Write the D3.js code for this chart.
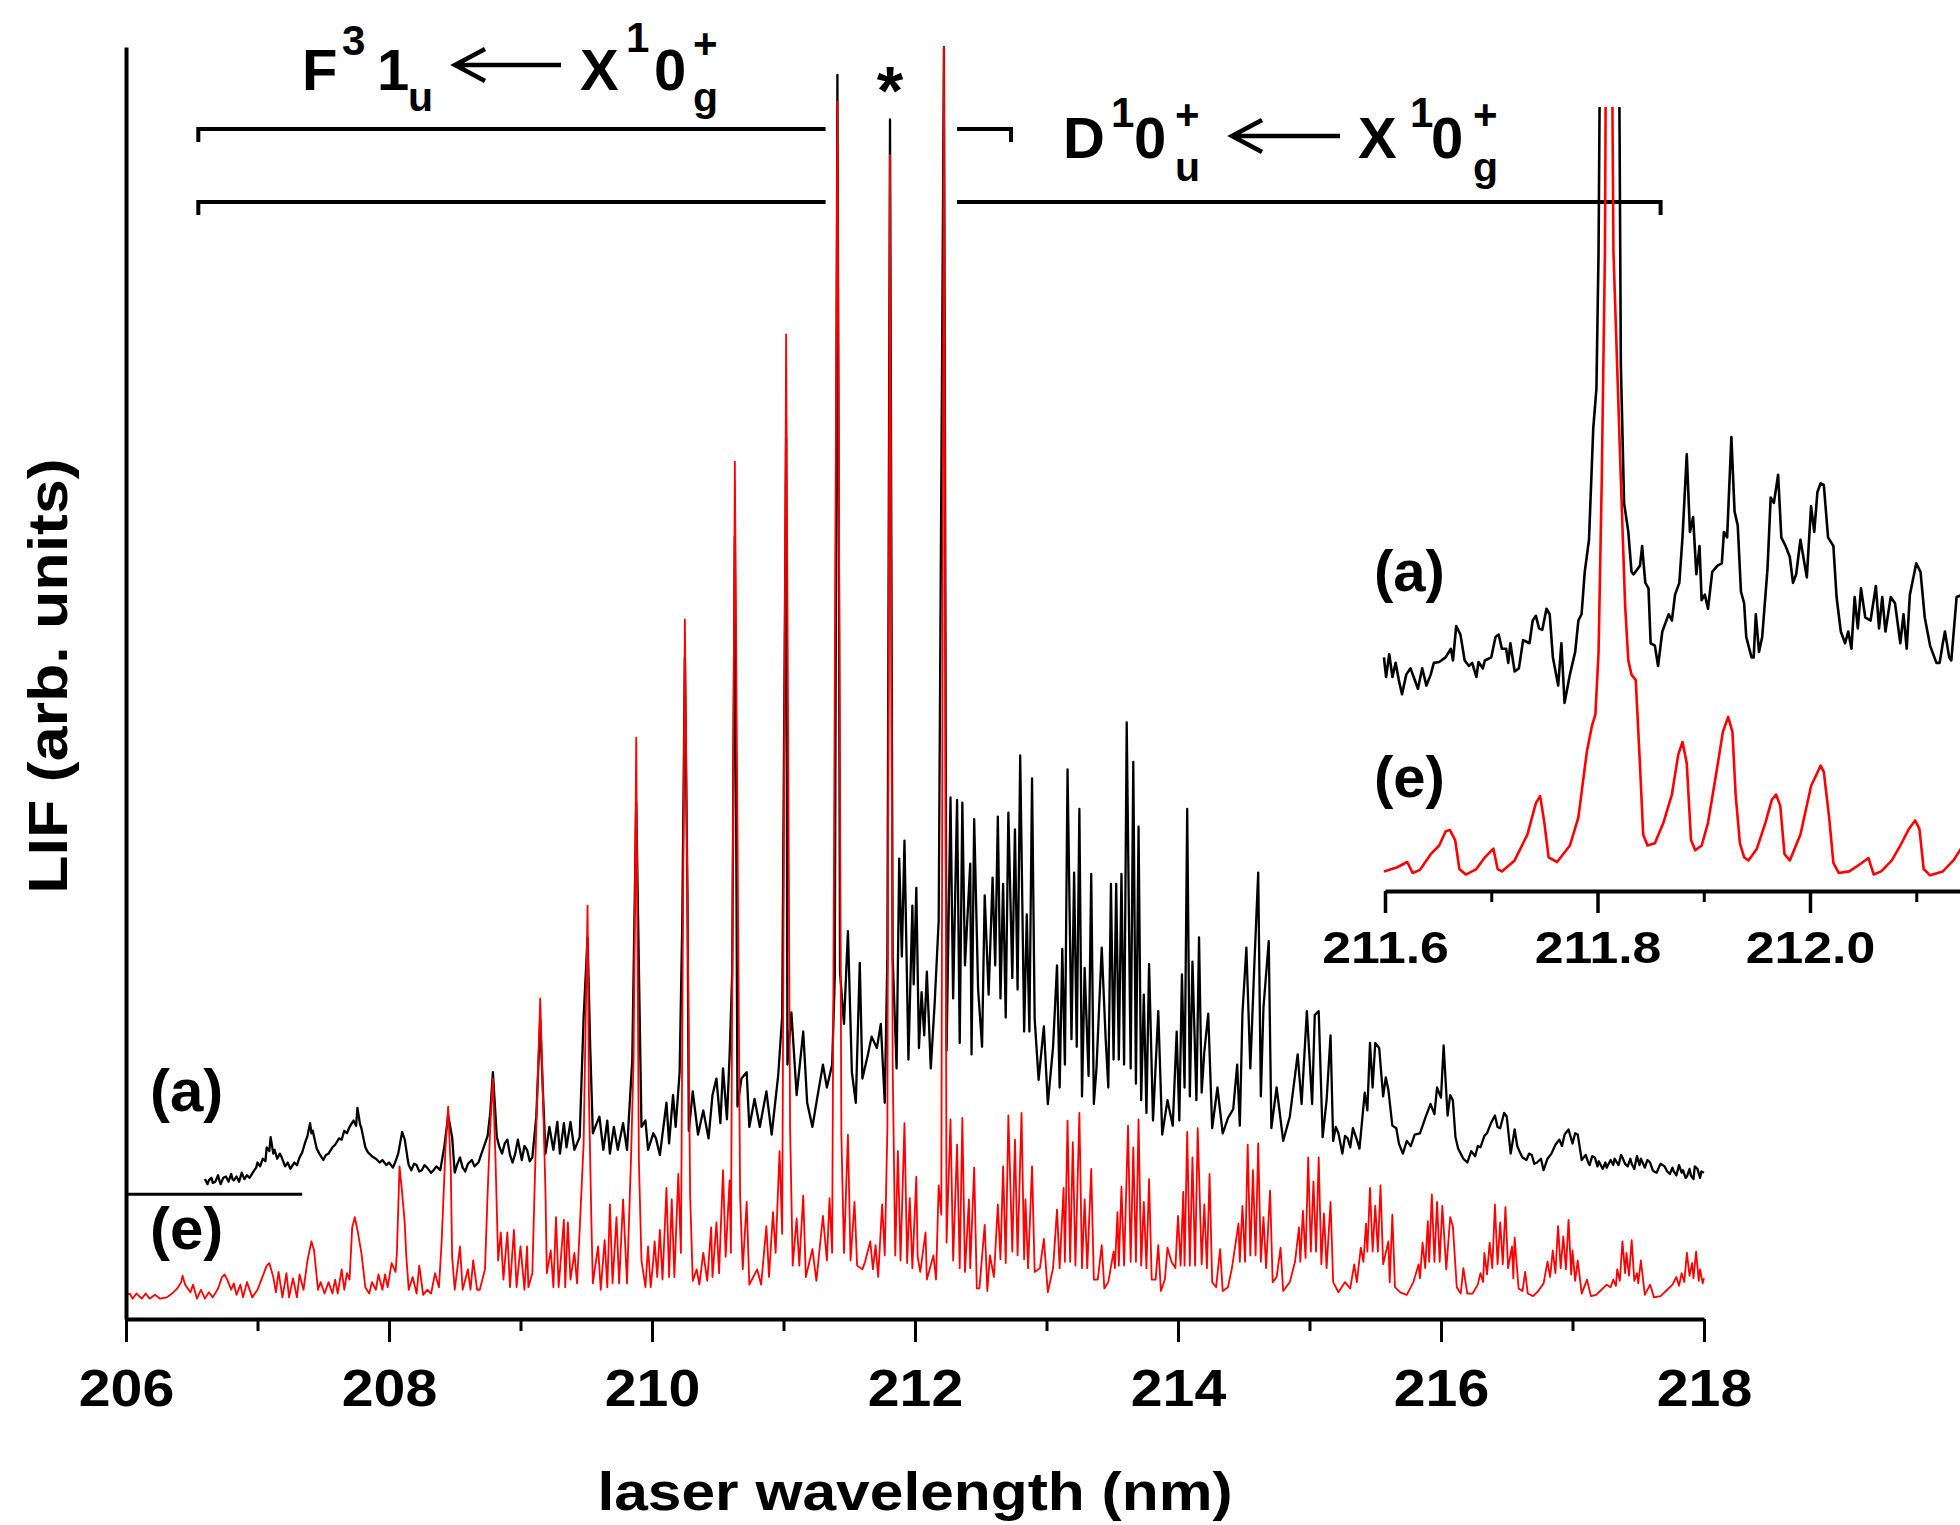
<!DOCTYPE html>
<html>
<head>
<meta charset="utf-8">
<script src="https://cdn.jsdelivr.net/npm/d3@7/dist/d3.min.js"></script>
<style>
  body { margin: 0; background: #fff; }
  text { font-family: Arial, "Liberation Sans", sans-serif; font-weight: bold; fill: #000; }
</style>
</head>
<body>
<script>
// axis ticks (nm)
const wlTicks = [206, 208, 210, 212, 214, 216, 218];
const wlMinor = [207, 209, 211, 213, 215, 217];
const insetTicks = [211.6, 211.8, 212.0];
const insetMinor = [211.7, 211.9, 212.1];

// band ranges drawn over the spectrum (nm)
const fBand = [206.55, 212.73];
const dBand = [206.55, 217.67];
const bandGap = [211.32, 212.32];
const separator = [[206.0, 9.8], [207.34, 9.8]];

// trace (a), main panel: [nm, LIF]
const traceA = [
  [206.60, 11.0], [206.62, 10.6], [206.63, 10.9], [206.65, 11.1], [206.66, 10.7], [206.68, 10.8], [206.70, 11.3], [206.71, 10.9],
  [206.72, 10.6], [206.74, 11.1], [206.76, 11.2], [206.78, 10.8], [206.80, 11.4], [206.81, 11.0], [206.82, 10.9], [206.84, 11.2],
  [206.86, 10.8], [206.88, 11.5], [206.90, 11.0], [206.92, 11.3], [206.94, 11.1], [206.97, 11.6], [206.99, 11.9], [207.00, 12.3],
  [207.02, 12.0], [207.04, 12.6], [207.06, 12.4], [207.07, 13.5], [207.09, 13.2], [207.10, 14.3], [207.12, 13.0], [207.13, 13.3],
  [207.15, 12.6], [207.17, 13.0], [207.18, 12.8], [207.21, 12.0], [207.23, 12.3], [207.25, 11.8], [207.28, 12.3], [207.30, 12.1],
  [207.32, 12.7], [207.34, 13.1], [207.36, 13.8], [207.38, 14.4], [207.40, 15.4], [207.41, 14.6], [207.42, 14.8], [207.45, 13.4],
  [207.47, 13.0], [207.50, 12.5], [207.52, 12.9], [207.54, 13.0], [207.57, 13.5], [207.59, 13.7], [207.62, 14.2], [207.64, 14.1],
  [207.66, 14.8], [207.68, 14.6], [207.70, 15.1], [207.73, 15.6], [207.75, 15.2], [207.76, 16.6], [207.78, 15.3], [207.79, 15.0],
  [207.82, 13.5], [207.84, 13.1], [207.87, 12.8], [207.90, 12.6], [207.93, 12.3], [207.95, 12.5], [207.98, 12.1], [208.00, 12.3],
  [208.03, 11.9], [208.05, 12.4], [208.07, 13.0], [208.10, 14.7], [208.12, 14.1], [208.14, 12.7], [208.15, 12.1], [208.17, 11.7],
  [208.19, 12.2], [208.21, 12.1], [208.23, 11.6], [208.25, 11.7], [208.27, 12.1], [208.29, 11.9], [208.32, 11.5], [208.34, 11.7],
  [208.36, 12.0], [208.39, 11.7], [208.42, 13.5], [208.45, 16.0], [208.48, 14.3], [208.50, 11.5], [208.52, 12.2], [208.54, 12.7],
  [208.56, 11.9], [208.58, 11.6], [208.60, 12.2], [208.63, 12.5], [208.65, 12.0], [208.68, 12.3], [208.70, 12.9], [208.72, 13.5],
  [208.75, 14.4], [208.77, 16.2], [208.79, 19.4], [208.82, 14.3], [208.84, 13.5], [208.86, 13.0], [208.88, 13.8], [208.90, 14.1],
  [208.92, 12.9], [208.94, 12.3], [208.96, 13.0], [208.98, 14.1], [209.01, 12.5], [209.03, 13.6], [209.05, 13.3], [209.07, 12.4],
  [209.09, 12.7], [209.12, 15.9], [209.15, 23.5], [209.17, 18.0], [209.19, 13.0], [209.22, 15.1], [209.25, 13.3], [209.28, 15.5],
  [209.30, 13.0], [209.33, 15.4], [209.35, 13.5], [209.38, 15.5], [209.41, 13.3], [209.45, 14.3], [209.48, 23.7], [209.51, 30.0],
  [209.53, 21.4], [209.55, 14.6], [209.58, 15.4], [209.60, 15.9], [209.63, 13.3], [209.66, 15.6], [209.68, 13.0], [209.71, 15.1],
  [209.74, 13.3], [209.78, 15.4], [209.81, 13.3], [209.85, 20.4], [209.88, 40.6], [209.92, 15.1], [209.95, 15.6], [209.97, 13.3],
  [210.01, 14.6], [210.03, 14.2], [210.06, 12.9], [210.11, 17.0], [210.13, 13.8], [210.16, 17.6], [210.18, 15.1], [210.21, 19.4],
  [210.23, 31.0], [210.25, 52.0], [210.27, 33.0], [210.28, 14.8], [210.31, 17.9], [210.35, 14.5], [210.39, 16.4], [210.43, 14.2],
  [210.46, 17.6], [210.49, 18.9], [210.52, 15.4], [210.54, 19.7], [210.57, 15.7], [210.59, 20.7], [210.61, 27.2], [210.63, 61.5],
  [210.65, 16.7], [210.68, 18.9], [210.72, 19.4], [210.74, 15.1], [210.78, 17.3], [210.82, 15.1], [210.87, 17.9], [210.91, 14.5],
  [210.96, 19.2], [210.99, 23.8], [211.02, 69.3], [211.03, 20.0], [211.06, 24.1], [211.10, 17.6], [211.15, 22.6], [211.18, 17.0],
  [211.22, 15.1], [211.26, 17.6], [211.30, 20.0], [211.33, 18.2], [211.37, 20.0], [211.39, 26.9], [211.41, 97.8], [211.43, 27.2],
  [211.46, 23.2], [211.49, 30.5], [211.52, 19.4], [211.55, 17.0], [211.58, 28.0], [211.60, 18.9], [211.64, 20.7], [211.67, 22.2],
  [211.71, 21.3], [211.74, 23.2], [211.77, 17.0], [211.79, 28.5], [211.81, 94.3], [211.83, 28.5], [211.86, 19.7], [211.88, 36.2],
  [211.90, 28.5], [211.92, 37.6], [211.95, 20.4], [211.98, 32.5], [211.99, 26.3], [212.01, 33.9], [212.03, 21.3], [212.05, 25.7],
  [212.07, 22.3], [212.09, 27.3], [212.12, 19.7], [212.15, 24.9], [212.18, 31.3], [212.22, 100], [212.24, 21.1], [212.27, 41.0],
  [212.29, 25.2], [212.32, 40.8], [212.34, 21.7], [212.36, 40.6], [212.38, 27.8], [212.42, 35.8], [212.43, 20.8], [212.45, 39.3],
  [212.48, 25.9], [212.51, 21.4], [212.53, 33.3], [212.56, 25.5], [212.59, 34.7], [212.61, 27.8], [212.63, 39.5], [212.65, 25.2],
  [212.67, 34.2], [212.69, 23.7], [212.71, 39.8], [212.74, 26.8], [212.76, 38.5], [212.78, 25.9], [212.80, 44.3], [212.83, 22.6],
  [212.85, 31.8], [212.87, 22.6], [212.89, 42.5], [212.91, 23.6], [212.94, 18.8], [212.98, 23.0], [213.01, 16.9], [213.05, 21.4],
  [213.08, 27.8], [213.10, 18.2], [213.12, 29.1], [213.14, 20.0], [213.16, 43.2], [213.19, 22.0], [213.21, 35.1], [213.23, 21.4],
  [213.25, 40.1], [213.27, 17.5], [213.29, 27.6], [213.32, 19.1], [213.34, 35.0], [213.36, 16.9], [213.38, 19.7], [213.42, 29.2],
  [213.45, 22.0], [213.47, 18.2], [213.49, 34.2], [213.51, 20.4], [213.53, 34.2], [213.55, 20.4], [213.57, 35.0], [213.59, 20.0],
  [213.61, 46.9], [213.64, 19.7], [213.66, 43.8], [213.68, 18.5], [213.70, 38.7], [213.72, 17.2], [213.74, 25.5], [213.76, 16.2],
  [213.78, 27.9], [213.81, 15.6], [213.85, 24.2], [213.88, 14.5], [213.92, 17.2], [213.96, 15.2], [213.99, 22.6], [214.01, 15.6],
  [214.03, 27.1], [214.05, 18.2], [214.07, 40.1], [214.09, 17.5], [214.11, 28.1], [214.14, 17.2], [214.16, 30.0], [214.18, 17.8],
  [214.20, 21.0], [214.23, 24.0], [214.26, 15.0], [214.30, 18.2], [214.34, 14.6], [214.38, 15.8], [214.42, 16.5], [214.45, 20.0],
  [214.47, 15.2], [214.49, 24.0], [214.52, 29.2], [214.55, 19.7], [214.58, 27.7], [214.61, 35.1], [214.63, 17.5], [214.65, 24.5],
  [214.69, 29.7], [214.71, 15.0], [214.75, 18.2], [214.80, 14.0], [214.85, 15.9], [214.91, 20.8], [214.94, 16.9], [214.98, 24.2],
  [215.02, 16.9], [215.04, 23.9], [215.07, 24.2], [215.10, 14.3], [215.13, 17.2], [215.16, 22.3], [215.18, 14.0], [215.20, 15.1],
  [215.22, 14.6], [215.25, 13.0], [215.27, 14.4], [215.29, 14.2], [215.31, 13.5], [215.33, 15.0], [215.36, 14.1], [215.38, 13.4],
  [215.40, 15.6], [215.42, 17.8], [215.44, 16.4], [215.46, 21.7], [215.48, 18.2], [215.50, 21.7], [215.53, 21.3], [215.56, 17.5],
  [215.58, 19.0], [215.60, 18.0], [215.63, 15.2], [215.66, 15.0], [215.68, 13.8], [215.71, 13.0], [215.74, 14.0], [215.77, 13.6],
  [215.80, 14.5], [215.84, 14.6], [215.88, 15.8], [215.92, 16.9], [215.95, 16.1], [215.97, 18.2], [216.00, 17.4], [216.02, 21.5],
  [216.05, 16.0], [216.07, 17.6], [216.09, 17.2], [216.11, 14.3], [216.13, 13.4], [216.15, 13.0], [216.17, 12.6], [216.20, 12.3],
  [216.23, 13.2], [216.26, 12.8], [216.28, 13.6], [216.30, 13.5], [216.33, 14.4], [216.35, 14.6], [216.38, 15.4], [216.41, 16.0],
  [216.43, 15.1], [216.45, 15.0], [216.48, 16.2], [216.50, 15.9], [216.53, 13.0], [216.56, 14.9], [216.58, 13.6], [216.60, 13.1],
  [216.62, 12.7], [216.65, 12.5], [216.67, 13.0], [216.69, 12.9], [216.71, 12.2], [216.73, 12.3], [216.76, 12.6], [216.78, 11.7],
  [216.81, 12.6], [216.84, 13.0], [216.87, 13.7], [216.90, 14.1], [216.92, 13.6], [216.94, 14.5], [216.97, 14.9], [217.00, 13.8],
  [217.02, 14.6], [217.04, 14.5], [217.07, 12.5], [217.10, 12.9], [217.12, 12.3], [217.13, 12.1], [217.15, 12.8], [217.17, 12.7],
  [217.19, 12.0], [217.20, 12.4], [217.23, 11.8], [217.25, 12.3], [217.26, 11.9], [217.29, 12.5], [217.31, 12.1], [217.32, 12.6],
  [217.35, 12.1], [217.37, 12.9], [217.38, 12.7], [217.40, 12.2], [217.42, 12.0], [217.44, 12.6], [217.45, 12.2], [217.47, 11.8],
  [217.49, 12.8], [217.51, 12.1], [217.52, 12.6], [217.55, 11.9], [217.57, 12.5], [217.59, 12.3], [217.61, 11.7], [217.62, 11.6],
  [217.64, 11.5], [217.66, 12.0], [217.67, 12.2], [217.70, 12.0], [217.72, 11.6], [217.74, 11.4], [217.76, 11.9], [217.77, 11.6],
  [217.79, 11.3], [217.81, 12.1], [217.83, 11.5], [217.84, 11.7], [217.86, 11.1], [217.87, 11.2], [217.89, 11.8], [217.90, 11.3],
  [217.92, 11.0], [217.93, 12.0], [217.95, 11.8], [217.97, 11.1], [217.98, 11.6], [218.00, 11.5]
];

// trace (e), main panel: [nm, LIF]
const traceE = [
  [206.00, 1.9], [206.03, 2.0], [206.05, 1.6], [206.08, 2.0], [206.12, 1.6], [206.15, 2.0], [206.18, 1.6], [206.22, 1.9],
  [206.26, 1.6], [206.31, 1.7], [206.35, 2.0], [206.39, 2.4], [206.42, 2.9], [206.43, 3.4], [206.45, 2.7], [206.49, 2.1],
  [206.51, 2.7], [206.54, 1.6], [206.57, 2.3], [206.60, 1.6], [206.63, 2.1], [206.66, 1.7], [206.70, 2.4], [206.73, 3.3],
  [206.75, 3.5], [206.77, 3.1], [206.80, 2.3], [206.82, 2.8], [206.84, 1.9], [206.87, 2.7], [206.89, 1.7], [206.92, 2.9],
  [206.96, 1.7], [207.00, 2.3], [207.03, 3.1], [207.07, 4.2], [207.09, 4.4], [207.12, 3.3], [207.14, 2.1], [207.16, 3.7],
  [207.19, 1.7], [207.22, 3.6], [207.24, 1.7], [207.27, 3.2], [207.30, 1.7], [207.32, 3.5], [207.35, 2.3], [207.38, 4.6],
  [207.41, 6.1], [207.43, 5.4], [207.46, 2.3], [207.48, 2.9], [207.51, 2.0], [207.54, 2.9], [207.57, 2.0], [207.59, 3.1],
  [207.61, 2.0], [207.64, 3.9], [207.66, 2.3], [207.68, 3.6], [207.70, 3.1], [207.72, 7.2], [207.74, 8.0], [207.76, 7.0],
  [207.79, 5.2], [207.82, 2.5], [207.85, 2.0], [207.87, 2.9], [207.90, 2.3], [207.92, 3.5], [207.95, 2.3], [207.97, 3.5],
  [207.99, 2.5], [208.02, 4.4], [208.05, 3.7], [208.06, 5.2], [208.08, 12.0], [208.10, 9.9], [208.12, 7.5], [208.13, 5.2],
  [208.15, 2.3], [208.18, 3.3], [208.21, 2.0], [208.23, 4.2], [208.26, 1.9], [208.29, 2.3], [208.32, 2.0], [208.35, 3.6],
  [208.38, 2.5], [208.40, 6.0], [208.43, 13.5], [208.45, 16.7], [208.47, 11.7], [208.48, 4.9], [208.50, 2.3], [208.54, 5.7],
  [208.56, 2.3], [208.60, 3.9], [208.62, 2.3], [208.64, 4.6], [208.67, 2.3], [208.69, 2.3], [208.73, 3.9], [208.75, 9.9],
  [208.77, 15.1], [208.79, 18.9], [208.81, 12.5], [208.83, 4.6], [208.85, 6.8], [208.87, 3.1], [208.90, 6.8], [208.92, 2.5],
  [208.95, 7.0], [208.97, 2.5], [209.00, 5.7], [209.03, 2.3], [209.05, 5.7], [209.06, 2.5], [209.09, 3.6], [209.12, 15.1],
  [209.15, 25.2], [209.17, 17.8], [209.19, 9.9], [209.20, 3.6], [209.23, 5.4], [209.25, 2.5], [209.27, 8.0], [209.29, 2.5],
  [209.33, 7.8], [209.34, 2.5], [209.36, 7.6], [209.38, 3.1], [209.41, 5.2], [209.43, 2.8], [209.45, 7.0], [209.48, 13.8],
  [209.51, 32.5], [209.52, 17.8], [209.54, 7.2], [209.55, 2.8], [209.59, 5.7], [209.61, 2.3], [209.64, 6.2], [209.66, 2.5],
  [209.68, 9.0], [209.70, 2.8], [209.73, 8.0], [209.75, 2.8], [209.78, 9.4], [209.81, 2.8], [209.84, 12.5], [209.86, 20.4],
  [209.88, 45.7], [209.90, 12.5], [209.92, 4.6], [209.95, 2.5], [209.97, 5.7], [209.99, 2.5], [210.01, 4.6], [210.02, 6.1],
  [210.04, 3.3], [210.06, 7.0], [210.08, 3.1], [210.11, 10.3], [210.13, 3.3], [210.15, 9.4], [210.17, 3.3], [210.20, 11.4],
  [210.22, 5.2], [210.25, 55.0], [210.29, 9.7], [210.31, 3.0], [210.34, 3.9], [210.36, 2.7], [210.39, 5.2], [210.42, 3.0],
  [210.45, 7.2], [210.46, 3.3], [210.49, 7.6], [210.51, 3.6], [210.54, 11.7], [210.56, 4.9], [210.59, 10.9], [210.60, 5.2],
  [210.63, 67.4], [210.67, 9.7], [210.69, 3.9], [210.72, 9.2], [210.74, 2.7], [210.80, 3.9], [210.83, 2.7], [210.87, 7.3],
  [210.89, 3.3], [210.92, 8.4], [210.94, 5.2], [210.97, 13.2], [210.99, 6.7], [211.02, 77.4], [211.05, 15.1], [211.07, 4.2],
  [211.10, 7.9], [211.12, 4.2], [211.15, 9.7], [211.17, 3.3], [211.22, 5.5], [211.25, 3.0], [211.30, 8.1], [211.33, 4.6],
  [211.35, 9.5], [211.37, 5.2], [211.41, 95.7], [211.44, 14.5], [211.46, 5.2], [211.49, 14.5], [211.51, 4.6], [211.54, 9.2],
  [211.56, 4.2], [211.60, 3.9], [211.62, 4.5], [211.66, 6.1], [211.68, 3.9], [211.70, 5.8], [211.72, 3.3], [211.75, 9.0],
  [211.77, 5.0], [211.79, 15.0], [211.81, 91.5], [211.83, 20.0], [211.85, 5.0], [211.87, 13.2], [211.89, 4.6], [211.92, 15.4],
  [211.94, 4.4], [211.96, 9.5], [211.98, 4.0], [212.01, 11.2], [212.02, 4.9], [212.04, 3.7], [212.08, 6.8], [212.09, 3.1],
  [212.14, 5.0], [212.16, 3.1], [212.18, 10.5], [212.20, 8.2], [212.22, 100], [212.24, 6.0], [212.27, 15.7], [212.29, 4.6],
  [212.32, 13.7], [212.34, 4.0], [212.36, 15.8], [212.38, 3.7], [212.41, 9.4], [212.42, 4.0], [212.45, 11.9], [212.47, 2.4],
  [212.49, 2.4], [212.53, 7.4], [212.55, 2.2], [212.57, 5.0], [212.60, 3.3], [212.63, 9.0], [212.65, 4.7], [212.67, 12.0],
  [212.69, 4.4], [212.71, 16.0], [212.74, 5.3], [212.76, 14.1], [212.78, 5.0], [212.81, 16.2], [212.83, 4.7], [212.84, 9.4],
  [212.86, 4.0], [212.89, 12.0], [212.91, 3.7], [212.95, 4.0], [212.98, 6.3], [213.01, 2.1], [213.05, 4.0], [213.08, 8.6],
  [213.10, 4.0], [213.13, 10.3], [213.14, 4.5], [213.16, 15.6], [213.18, 4.5], [213.20, 13.9], [213.22, 4.2], [213.25, 16.2],
  [213.27, 4.0], [213.29, 9.4], [213.31, 4.0], [213.34, 11.8], [213.36, 3.1], [213.39, 3.1], [213.42, 5.8], [213.44, 2.4],
  [213.47, 2.9], [213.51, 5.3], [213.52, 4.0], [213.54, 8.4], [213.55, 4.2], [213.57, 10.4], [213.59, 4.2], [213.62, 15.2],
  [213.64, 4.5], [213.66, 13.5], [213.68, 4.5], [213.70, 15.7], [213.72, 4.2], [213.74, 9.2], [213.76, 4.0], [213.78, 11.0],
  [213.80, 3.1], [213.83, 3.1], [213.85, 5.8], [213.87, 2.2], [213.90, 3.1], [213.92, 5.6], [213.95, 4.5], [213.98, 4.0],
  [214.00, 8.1], [214.02, 4.2], [214.04, 10.0], [214.05, 4.2], [214.07, 14.7], [214.09, 4.2], [214.11, 12.7], [214.13, 4.2],
  [214.15, 15.0], [214.18, 4.3], [214.20, 9.0], [214.22, 4.0], [214.24, 11.4], [214.26, 2.9], [214.29, 2.5], [214.32, 5.5],
  [214.34, 2.2], [214.38, 2.5], [214.41, 4.0], [214.46, 7.5], [214.47, 4.5], [214.49, 8.9], [214.51, 4.5], [214.53, 13.7],
  [214.55, 5.0], [214.57, 11.7], [214.59, 5.0], [214.61, 13.8], [214.63, 4.5], [214.65, 8.0], [214.67, 4.0], [214.70, 10.1],
  [214.72, 2.9], [214.75, 3.3], [214.78, 5.6], [214.80, 2.2], [214.85, 2.9], [214.89, 4.5], [214.92, 7.2], [214.93, 4.5],
  [214.95, 8.5], [214.97, 4.8], [214.99, 12.7], [215.01, 5.3], [215.03, 10.8], [215.05, 5.3], [215.07, 12.7], [215.09, 4.3],
  [215.11, 8.3], [215.13, 4.0], [215.16, 9.2], [215.18, 2.9], [215.22, 2.1], [215.27, 2.9], [215.31, 2.4], [215.34, 4.3],
  [215.36, 2.9], [215.39, 5.6], [215.41, 4.5], [215.43, 7.5], [215.44, 5.3], [215.46, 10.3], [215.48, 5.3], [215.50, 8.9],
  [215.52, 5.3], [215.54, 10.5], [215.56, 4.3], [215.60, 6.1], [215.61, 2.9], [215.63, 8.2], [215.65, 2.5], [215.69, 2.1],
  [215.74, 1.9], [215.79, 2.9], [215.83, 4.3], [215.84, 3.2], [215.86, 6.0], [215.88, 4.0], [215.90, 7.7], [215.91, 4.5],
  [215.93, 9.8], [215.95, 4.5], [215.97, 9.2], [215.99, 4.5], [216.01, 8.9], [216.04, 3.9], [216.07, 8.0], [216.09, 7.3],
  [216.12, 2.5], [216.15, 2.0], [216.17, 4.0], [216.20, 2.0], [216.24, 2.0], [216.28, 2.7], [216.30, 3.6], [216.32, 2.9],
  [216.33, 5.2], [216.35, 3.5], [216.37, 6.0], [216.39, 4.0], [216.41, 9.0], [216.43, 4.3], [216.45, 7.6], [216.47, 4.3],
  [216.49, 8.8], [216.51, 4.0], [216.54, 5.7], [216.55, 3.2], [216.56, 6.4], [216.59, 2.4], [216.62, 2.2], [216.64, 3.7],
  [216.66, 2.0], [216.70, 1.8], [216.74, 2.2], [216.78, 2.8], [216.81, 4.5], [216.83, 3.3], [216.85, 5.4], [216.87, 3.6],
  [216.89, 7.3], [216.91, 4.0], [216.93, 6.5], [216.95, 3.9], [216.97, 7.8], [216.99, 3.5], [217.00, 5.4], [217.02, 3.0],
  [217.04, 4.6], [217.07, 2.0], [217.11, 3.1], [217.14, 1.8], [217.18, 1.9], [217.22, 2.3], [217.26, 2.7], [217.29, 2.5],
  [217.31, 3.1], [217.33, 2.6], [217.34, 3.9], [217.36, 3.0], [217.38, 6.1], [217.40, 3.6], [217.41, 5.2], [217.43, 3.4],
  [217.45, 6.2], [217.47, 3.0], [217.49, 3.6], [217.50, 2.8], [217.52, 4.6], [217.55, 1.9], [217.59, 2.7], [217.62, 1.7],
  [217.67, 1.8], [217.72, 2.3], [217.76, 2.7], [217.79, 3.3], [217.81, 2.6], [217.83, 3.6], [217.85, 2.9], [217.87, 5.2],
  [217.89, 3.4], [217.91, 4.4], [217.92, 3.2], [217.94, 5.3], [217.96, 3.0], [217.97, 3.9], [217.99, 2.8], [218.00, 3.2]
];

// inset, trace (a): [nm, LIF]; the central line runs past the top of the inset
const insetA = [
  [211.599, 29.8], [211.601, 27.3], [211.604, 30.2], [211.607, 27.3], [211.610, 29.1], [211.613, 26.9], [211.616, 25.1], [211.620, 27.6],
  [211.624, 28.4], [211.627, 27.3], [211.631, 25.8], [211.635, 28.4], [211.639, 26.2], [211.643, 27.6], [211.646, 29.1], [211.651, 29.2],
  [211.657, 29.8], [211.662, 30.9], [211.664, 29.4], [211.667, 33.8], [211.671, 32.7], [211.675, 29.4], [211.679, 28.7], [211.682, 29.1],
  [211.686, 27.3], [211.688, 29.2], [211.692, 28.4], [211.694, 29.4], [211.700, 29.8], [211.704, 32.4], [211.707, 32.7], [211.710, 30.9],
  [211.714, 30.9], [211.716, 29.1], [211.718, 31.6], [211.722, 28.0], [211.726, 28.4], [211.730, 32.0], [211.736, 31.6], [211.739, 34.5],
  [211.742, 35.1], [211.745, 33.5], [211.748, 33.3], [211.752, 36.0], [211.755, 35.3], [211.758, 29.8], [211.763, 26.2], [211.766, 31.6],
  [211.769, 24.0], [211.774, 27.6], [211.779, 30.5], [211.782, 34.5], [211.785, 35.3], [211.788, 40.7], [211.792, 44.8], [211.796, 59.0],
  [211.799, 64.1], [211.801, 81.6], [211.804, 140], [211.819, 140], [211.822, 67.0], [211.825, 49.5], [211.829, 45.8], [211.832, 40.7],
  [211.834, 40.4], [211.840, 41.5], [211.842, 44.0], [211.845, 39.3], [211.848, 38.6], [211.850, 31.6], [211.854, 31.3], [211.857, 28.7],
  [211.861, 33.1], [211.867, 35.3], [211.870, 34.5], [211.873, 37.8], [211.877, 39.3], [211.880, 45.1], [211.884, 55.7], [211.887, 45.8],
  [211.890, 47.7], [211.893, 40.4], [211.896, 44.0], [211.898, 37.1], [211.901, 37.8], [211.904, 36.0], [211.908, 40.7], [211.913, 41.5],
  [211.917, 41.8], [211.919, 45.8], [211.922, 45.1], [211.926, 57.9], [211.929, 48.4], [211.932, 46.6], [211.935, 38.2], [211.938, 36.7],
  [211.940, 32.4], [211.945, 29.8], [211.947, 29.8], [211.949, 35.3], [211.952, 30.5], [211.955, 32.4], [211.960, 41.1], [211.963, 50.2],
  [211.966, 49.5], [211.970, 53.1], [211.973, 45.1], [211.977, 44.0], [211.981, 42.6], [211.984, 39.3], [211.987, 40.4], [211.991, 44.8],
  [211.997, 40.0], [212.001, 49.1], [212.004, 45.8], [212.007, 50.9], [212.010, 52.0], [212.013, 51.8], [212.017, 45.1], [212.022, 44.0],
  [212.025, 37.5], [212.029, 33.1], [212.033, 31.6], [212.036, 33.1], [212.039, 30.9], [212.042, 37.5], [212.045, 33.5], [212.048, 38.6],
  [212.052, 34.9], [212.057, 34.5], [212.062, 38.9], [212.065, 33.5], [212.068, 37.5], [212.071, 33.1], [212.076, 37.5], [212.080, 36.7],
  [212.085, 31.6], [212.088, 35.3], [212.091, 30.9], [212.094, 37.8], [212.100, 41.8], [212.104, 40.7], [212.108, 34.9], [212.113, 31.3],
  [212.119, 29.1], [212.122, 29.1], [212.125, 31.6], [212.127, 33.1], [212.131, 29.8], [212.133, 29.4], [212.138, 37.5], [212.144, 37.8]
];

// inset, trace (e): [nm, LIF]
const insetE = [
  [211.599, 2.5], [211.611, 3.0], [211.621, 3.7], [211.626, 2.3], [211.633, 2.7], [211.643, 4.7], [211.651, 5.8], [211.657, 7.6],
  [211.661, 7.8], [211.666, 6.5], [211.670, 2.8], [211.676, 2.1], [211.686, 2.8], [211.694, 4.3], [211.702, 5.4], [211.706, 2.8],
  [211.710, 2.5], [211.722, 3.9], [211.734, 7.2], [211.742, 11.2], [211.746, 12.1], [211.750, 8.7], [211.754, 4.3], [211.762, 3.7],
  [211.774, 5.8], [211.782, 9.4], [211.790, 17.8], [211.795, 21.2], [211.798, 22.5], [211.801, 30.5], [211.804, 52.4], [211.807, 81.6],
  [211.809, 140], [211.812, 140], [211.815, 81.6], [211.822, 52.4], [211.826, 36.4], [211.829, 29.4], [211.832, 27.6], [211.836, 26.9],
  [211.840, 16.0], [211.843, 7.2], [211.847, 5.8], [211.854, 6.1], [211.862, 8.7], [211.870, 12.3], [211.876, 17.4], [211.880, 19.0],
  [211.884, 16.3], [211.888, 6.5], [211.892, 5.2], [211.898, 5.8], [211.904, 8.7], [211.912, 15.2], [211.918, 20.3], [211.923, 22.2],
  [211.927, 20.3], [211.930, 12.3], [211.934, 6.1], [211.938, 4.3], [211.942, 3.9], [211.950, 5.4], [211.958, 8.7], [211.964, 11.6],
  [211.968, 12.3], [211.972, 10.9], [211.976, 4.7], [211.981, 3.9], [211.991, 7.2], [212.001, 13.4], [212.010, 16.0], [212.013, 15.2],
  [212.018, 9.4], [212.022, 3.6], [212.027, 2.3], [212.037, 2.5], [212.049, 3.6], [212.055, 4.2], [212.060, 2.1], [212.067, 2.5],
  [212.077, 3.9], [212.085, 5.8], [212.093, 7.9], [212.099, 9.0], [212.103, 7.9], [212.107, 2.8], [212.113, 2.0], [212.125, 2.5],
  [212.135, 3.9], [212.144, 5.8]
];

// ---- chart ----
const W = 1960, H = 1525;
const svg = d3.select('body').append('svg')
    .attr('width', W)
    .attr('height', H)
    .style('background', '#fff');

const x = d3.scaleLinear().domain([206, 218]).range([126, 1704]);
const y = d3.scaleLinear().domain([0, 100]).range([1319, 47]);

const xi = d3.scaleLinear().domain([211.6, 212.0]).range([1385, 1810]);
const yi = d3.scaleLinear().domain([0, 100]).range([891, 107]);

const line = d3.line().x(d => x(d[0])).y(d => y(d[1]));
const lineInset = d3.line().x(d => xi(d[0])).y(d => yi(d[1]));

svg.append('defs').append('clipPath')
    .attr('id', 'inset-clip')
    .append('rect')
    .attr('x', xi(211.59)).attr('y', yi(100))
    .attr('width', W - xi(211.59)).attr('height', yi(0) - yi(100));

// traces, main
svg.append('path').datum(traceA)
    .attr('d', line).attr('fill', 'none')
    .attr('stroke', '#000').attr('stroke-width', 2.3).attr('stroke-linejoin', 'round');
svg.append('path').datum(traceE)
    .attr('d', line).attr('fill', 'none')
    .attr('stroke', '#ff0000').attr('stroke-width', 1.8).attr('stroke-linejoin', 'round');

// separator between (a) and (e)
svg.append('path').datum(separator)
    .attr('d', line).attr('fill', 'none')
    .attr('stroke', '#000').attr('stroke-width', 3);

// axes, main
svg.append('g')
    .attr('transform', `translate(0,${y(0)})`)
    .call(d3.axisBottom(x).tickValues(wlMinor).tickSize(12).tickSizeOuter(0).tickFormat(''))
    .call(g => g.selectAll('.tick line').attr('stroke-width', 3))
    .call(g => g.select('.domain').remove());

svg.append('g')
    .attr('transform', `translate(0,${y(0)})`)
    .call(d3.axisBottom(x).tickValues(wlTicks).tickSize(23).tickSizeOuter(0).tickPadding(27).tickFormat(d3.format('d')))
    .call(g => g.select('.domain').attr('stroke-width', 4))
    .call(g => g.selectAll('.tick line').attr('stroke-width', 3))
    .call(g => g.selectAll('text').attr('font-size', 52).attr('font-family', null).attr('transform', 'scale(1.1,1)'));

svg.append('g')
    .attr('transform', `translate(${x(206)},0)`)
    .call(d3.axisLeft(y).tickValues([]).tickSizeOuter(0))
    .call(g => g.select('.domain').attr('stroke-width', 4));

svg.append('text')
    .attr('transform', `translate(${x(212)},1510) scale(1.12,1)`)
    .attr('text-anchor', 'middle')
    .attr('font-size', 54)
    .text('laser wavelength (nm)');

svg.append('text')
    .attr('transform', 'translate(67,676) rotate(-90) scale(1.12,1)')
    .attr('text-anchor', 'middle')
    .attr('font-size', 56)
    .text('LIF (arb. units)');

svg.append('text').attr('x', 150).attr('y', 1111).attr('font-size', 60).text('(a)');
svg.append('text').attr('x', 150).attr('y', 1249).attr('font-size', 60).text('(e)');

// band brackets, broken where the strong lines pass through
function bracket(range, yPos) {
    svg.append('path')
        .attr('d', `M${x(range[0])},${yPos + 13}V${yPos}H${x(bandGap[0])}M${x(bandGap[1])},${yPos}H${x(range[1])}V${yPos + 13}`)
        .attr('fill', 'none')
        .attr('stroke', '#000')
        .attr('stroke-width', 4);
}
bracket(fBand, 129);
bracket(dBand, 202);

// state labels with sub/superscripts
function piece(px, py, str, size) {
    svg.append('text').attr('x', px).attr('y', py).attr('font-size', size).text(str);
}
function arrow(x0, x1, cy) {
    svg.append('path')
        .attr('d', `M${x1},${cy}H${x0 + 2}M${x0 + 30},${cy - 16}L${x0},${cy}L${x0 + 30},${cy + 16}`)
        .attr('fill', 'none')
        .attr('stroke', '#000')
        .attr('stroke-width', 4.5);
}

piece(302, 90, 'F', 58);
piece(342, 55, '3', 42);
piece(377, 90, '1', 58);
piece(408, 111, 'u', 41);
arrow(455, 561, 65);
piece(580, 90, 'X', 58);
piece(626, 52, '1', 42);
piece(654, 90, '0', 58);
piece(693, 58, '+', 42);
piece(693, 111, 'g', 41);

piece(1063, 158, 'D', 58);
piece(1111, 127, '1', 42);
piece(1134, 158, '0', 58);
piece(1175, 129, '+', 42);
piece(1175, 181, 'u', 41);
arrow(1232, 1340, 136);
piece(1358, 158, 'X', 58);
piece(1410, 127, '1', 42);
piece(1431, 158, '0', 58);
piece(1473, 129, '+', 42);
piece(1473, 181, 'g', 41);

svg.append('text')
    .attr('x', x(211.81))
    .attr('y', 114)
    .attr('text-anchor', 'middle')
    .attr('font-family', '"Liberation Serif", serif')
    .attr('font-weight', 'normal')
    .attr('font-size', 68)
    .text('*');

// ---- inset ----
const inset = svg.append('g').attr('clip-path', 'url(#inset-clip)');
inset.append('path').datum(insetA)
    .attr('d', lineInset).attr('fill', 'none')
    .attr('stroke', '#000').attr('stroke-width', 2.6).attr('stroke-linejoin', 'round');
inset.append('path').datum(insetE)
    .attr('d', lineInset).attr('fill', 'none')
    .attr('stroke', '#ff0000').attr('stroke-width', 2.6).attr('stroke-linejoin', 'round');

const xiAxis = xi.copy().domain([211.6, xi.invert(W)]).range([1385, W]);

svg.append('g')
    .attr('transform', `translate(0,${yi(0)})`)
    .call(d3.axisBottom(xiAxis).tickValues(insetMinor).tickSize(11).tickSizeOuter(0).tickFormat(''))
    .call(g => g.selectAll('.tick line').attr('stroke-width', 3))
    .call(g => g.select('.domain').remove());

svg.append('g')
    .attr('transform', `translate(0,${yi(0)})`)
    .call(d3.axisBottom(xiAxis).tickValues(insetTicks).tickSize(22).tickSizeOuter(0).tickPadding(18).tickFormat(d3.format('.1f')))
    .call(g => g.select('.domain').attr('stroke-width', 4))
    .call(g => g.selectAll('.tick line').attr('stroke-width', 3.5))
    .call(g => g.selectAll('text').attr('font-size', 45).attr('font-family', null).attr('transform', 'scale(1.15,1)'));

svg.append('text').attr('x', 1374).attr('y', 591).attr('font-size', 58).text('(a)');
svg.append('text').attr('x', 1374).attr('y', 797).attr('font-size', 58).text('(e)');
</script>
</body>
</html>
